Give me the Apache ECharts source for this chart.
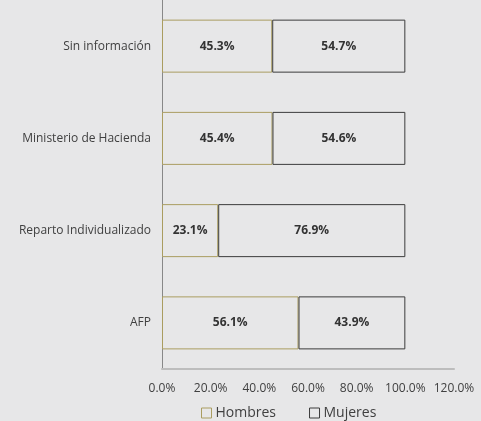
<!DOCTYPE html>
<html><head><meta charset="utf-8">
<script src="https://cdn.jsdelivr.net/npm/echarts@6/dist/echarts.min.js"></script>
<style>html,body{margin:0;padding:0;background:#e7e7e8;}#c{width:481px;height:421px;}</style>
</head><body><div id="c"></div>
<script>
const categories = ['AFP', 'Reparto Individualizado', 'Ministerio de Hacienda', 'Sin información'];
const hombres = [56.1, 23.1, 45.4, 45.3];
const mujeres = [43.9, 76.9, 54.6, 54.7];
const xTicks = [0, 20, 40, 60, 80, 100, 120];

const font = '"Open Sans", "Noto Sans", sans-serif';
const chart = echarts.init(document.getElementById('c'));
const lbl = {show: true, position: 'inside', formatter: p => p.value.toFixed(1) + '%', color: '#333', fontWeight: 'bold', fontSize: 12, fontFamily: font};
chart.setOption({
  backgroundColor: '#e7e7e8',
  animation: false,
  grid: {left: 162, right: 27, top: -3, height: 372},
  xAxis: {type: 'value', min: xTicks[0], max: xTicks[xTicks.length - 1], interval: 20,
    axisLine: {show: true, lineStyle: {color: '#bdbdbd', width: 2}},
    axisTick: {show: false}, splitLine: {show: false},
    axisLabel: {formatter: v => v.toFixed(1) + '%', color: '#404040', fontSize: 12, fontFamily: font, margin: 14}},
  yAxis: {type: 'category', data: categories,
    axisLine: {show: true, lineStyle: {color: '#888', width: 1}},
    axisTick: {show: false},
    axisLabel: {color: '#404040', fontSize: 12, fontFamily: font, margin: 11}},
  legend: {top: 401, left: 196, itemWidth: 10, itemHeight: 10, itemGap: 33,
    textStyle: {color: '#404040', fontSize: 14, fontFamily: font, padding: [0, 0, 0, -1]},
    data: [
      {name: 'Hombres', icon: 'rect', itemStyle: {color: '#e7e7e8', borderColor: '#aa9d60', borderWidth: 1}},
      {name: 'Mujeres', icon: 'rect', itemStyle: {color: '#e7e7e8', borderColor: '#3c3c3c', borderWidth: 1}}]},
  series: [
    {name: 'Hombres', type: 'bar', stack: 'a', data: hombres, barWidth: 53, label: lbl,
      itemStyle: {color: '#e7e7e8', borderColor: '#aa9d60', borderWidth: 1}},
    {name: 'Mujeres', type: 'bar', stack: 'a', data: mujeres, barWidth: 53, label: lbl,
      itemStyle: {color: '#e7e7e8', borderColor: '#3c3c3c', borderWidth: 1}}
  ]
});
</script></body></html>
